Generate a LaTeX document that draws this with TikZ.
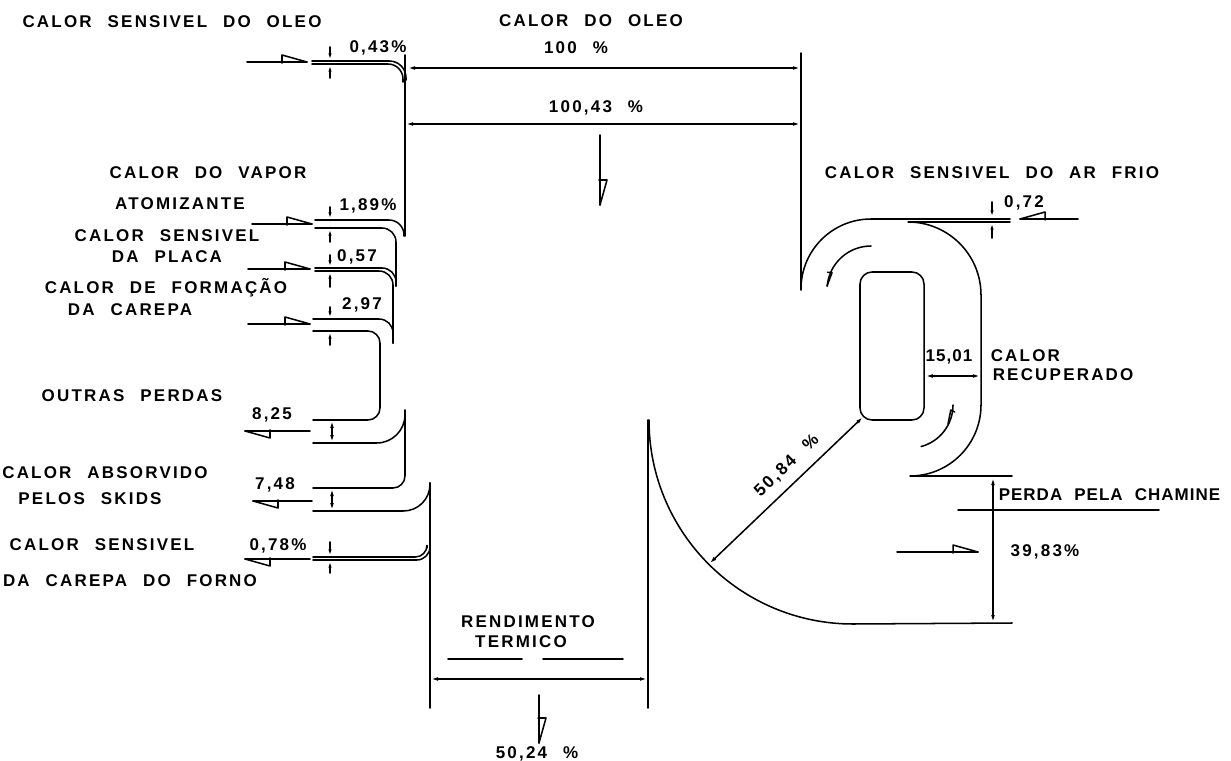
\documentclass[tikz,border=0pt]{standalone}
\usepackage{fontspec}
\usepackage{tikz}
\usetikzlibrary{arrows.meta}
\newfontfamily\leroy[LetterSpace=13,WordSpace=2.3,UprightFont={* Bold}]{Liberation Sans}
\newfontfamily\leroytight[LetterSpace=6,WordSpace=2.1,UprightFont={* Bold}]{Liberation Sans}

\begin{document}
\begin{tikzpicture}[
    x=0.03cm, y=-0.03cm,
    line width=1.3pt, line cap=round, line join=round,
    lbl/.style={font=\leroy\fontsize{14.5}{16}\selectfont, inner sep=0pt},
    lbltight/.style={font=\leroytight\fontsize{14.5}{16}\selectfont, inner sep=0pt},
    dim/.style={{Latex[length=0.24cm,width=0.11cm]}-{Latex[length=0.24cm,width=0.11cm]}},
    tipin/.style={-{Latex[length=0.2cm,width=0.1cm]}},
    flag/.pic={\draw (0,0) -- (-25,-7) -- (-25,1);},
    flagdn/.pic={\draw (0,0) -- (-25,7) -- (-25,-1);}
]
\useasboundingbox (0,0) rectangle (1231,761);

% calor do oleo
\node[lbl] (tsensoleo) at (172,22) {CALOR SENSIVEL DO OLEO};
\node[lbl] (toleo) at (591,21) {CALOR DO OLEO};
\node[lbl] (p100) at (576,48) {100 \%};
\node[lbl] (p10043) at (596,108) {100,43 \%};
\node[lbl] (p043) at (378,48) {0,43\%};
\draw (247,62) -- (307,62);
\pic at (307,62) {flag};
\draw[rounded corners=0.5cm] (312,61) -| (406,80);
\draw[rounded corners=0.45cm] (312,64) -| (403,82);
\draw[tipin] (330,47) -- (330,60);
\draw[tipin] (330,78) -- (330,65);
\draw (405,55) -- (405,236);
\draw (801,53) -- (801,290);
\draw[dim] (407,68) -- (801,68);
\draw[dim] (405,124) -- (801,124);
\draw (600,135) -- (600,205);
\pic[rotate=-90] at (600,205) {flag};

% vapor atomizante
\node[lbl] (tvapor) at (208,173) {CALOR DO VAPOR};
\node[lbl] (tatom) at (180,204) {ATOMIZANTE};
\node[lbl] (p189) at (368,206) {1,89\%};
\draw (252,224) -- (312,224);
\pic at (312,224) {flag};
\draw[rounded corners=0.45cm] (315,220) -| (404,236);
\draw[rounded corners=0.42cm] (315,228) -| (396,286);
\draw[tipin] (330,207) -- (330,219);
\draw[tipin] (330,242) -- (330,229);

% placa
\node[lbl] (tsensplaca) at (167,236) {CALOR SENSIVEL};
\node[lbl] (tplaca) at (167,257) {DA PLACA};
\node[lbl] (p057) at (357,257) {0,57};
\draw (248,269) -- (310,269);
\pic at (310,269) {flag};
\draw[rounded corners=0.42cm] (315,268) -| (396,286);
\draw[rounded corners=0.42cm] (315,271) -| (393,343);
\draw[tipin] (330,255) -- (330,267);
\draw[tipin] (330,287) -- (330,272);

% carepa
\node[lbl] (tform) at (166,288) {CALOR DE FORMAÇÃO};
\node[lbl] (tcarepa) at (130,310) {DA CAREPA};
\node[lbl] (p297) at (362,305) {2,97};
\draw (248,324) -- (310,324);
\pic at (310,324) {flag};
\draw[rounded corners=0.42cm] (313,319) -| (393,343);
\draw[rounded corners=0.36cm] (313,331) -| (380,380) |- (313,420);
\draw[tipin] (330,307) -- (330,318);
\draw[tipin] (330,345) -- (330,332);

% outras perdas
\node[lbl] (toutras) at (132,396) {OUTRAS PERDAS};
\node[lbl] (p825) at (272,415) {8,25};
\draw (310,431) -- (245,431);
\pic[rotate=180] at (245,431) {flag};
\draw[rounded corners=0.85cm] (313,443) -| (405,413);
\draw[rounded corners=0.36cm] (405,410) |- (313,488);
\draw[dim] (332,420) -- (332,443);

% skids
\node[lbl] (tabsorv) at (105,473) {CALOR ABSORVIDO};
\node[lbl] (tskids) at (90,499) {PELOS SKIDS};
\node[lbl] (p748) at (275,485) {7,48};
\draw (312,501) -- (253,501);
\pic[rotate=180] at (253,501) {flag};
\draw[rounded corners=0.8cm] (313,511) -| (430,483);
\draw[dim] (332,488) -- (332,511);
\draw (430,483) -- (430,708);

% carepa do forno
\node[lbl] (tsenscar) at (102,545) {CALOR SENSIVEL};
\node[lbl] (tforno) at (130,581) {DA CAREPA DO FORNO};
\node[lbl] (p078) at (278,546) {0,78\%};
\draw (310,559) -- (245,559);
\pic[rotate=180] at (245,559) {flag};
\draw[rounded corners=0.4cm] (313,560) -| (430,546);
\draw[rounded corners=0.35cm] (313,557) -| (427,548);
\draw[tipin] (330,542) -- (330,556);
\draw[tipin] (330,573) -- (330,561);

% rendimento termico
\node[lbl] (trend) at (528,622) {RENDIMENTO};
\node[lbl] (tterm) at (521,642) {TERMICO};
\draw (448,659) -- (522,659);
\draw (543,659) -- (623,659);
\draw (648,420) -- (648,708);
\draw[dim] (430,679) -- (648,679);
\draw (539,695) -- (539,743);
\pic[rotate=-90] at (539,743) {flag};
\node[lbl] (p5024) at (537,754) {50,24 \%};

% ar frio e recuperador
\node[lbl] (tarfrio) at (992,173) {CALOR SENSIVEL DO AR FRIO};
\node[lbl] (p072) at (1024,203) {0,72};
\draw (1078,219) -- (1020,219);
\pic[rotate=180] at (1020,219) {flagdn};
\draw (801,289) arc[start angle=180, end angle=270, radius=70] -- (1010,219);
\draw (1010,222) -- (908,222) arc[start angle=270, end angle=360, radius=73]
    -- (981,405) arc[start angle=0, end angle=90, radius=71] -- (1012,476);
\draw[tipin] (992,202) -- (992,217);
\draw[tipin] (992,238) -- (992,223);
\node[draw, rounded corners=0.36cm, minimum width=1.92cm, minimum height=4.44cm,
      inner sep=0pt] (recup) at (892,346) {};
\draw (871,246) arc[start angle=270, end angle=185, radius=44];
\pic[rotate=-95, scale=0.55] at (827,286) {flag};
\draw (953,405) arc[start angle=0, end angle=75, radius=43];
\pic[rotate=-117, scale=0.55] at (948,424) {flagdn};
\coordinate (recR) at (981,376);
\draw[dim] (recup.east |- recR) -- (recR);
\node[lbltight] (p1501) at (949,357) {15,01};
\node[lbl, anchor=west] (tcalrec) at (990,356) {CALOR};
\node[lbl, anchor=west] (trecup) at (992,375) {RECUPERADO};

% perda pela chamine
\draw (649,420) arc[start angle=180, end angle=90, radius=204] -- (1012,623);
\coordinate (chim) at (709,564);
\coordinate (boxsw) at (863.5,416.5);
\draw[dim] (chim) -- (boxsw);
\node[lbl, rotate=44] (p5084) at (787,466) {50,84 \%};
\draw (958,510) -- (1159,510);
\draw[dim] (993,477) -- (993,623);
\node[lbltight, anchor=west] (tchamine) at (998,495) {PERDA PELA CHAMINE};
\node[lbl] (p3983) at (1045,552) {39,83\%};
\draw (897,552) -- (978,552);
\pic at (978,552) {flag};
\end{tikzpicture}
\end{document}
